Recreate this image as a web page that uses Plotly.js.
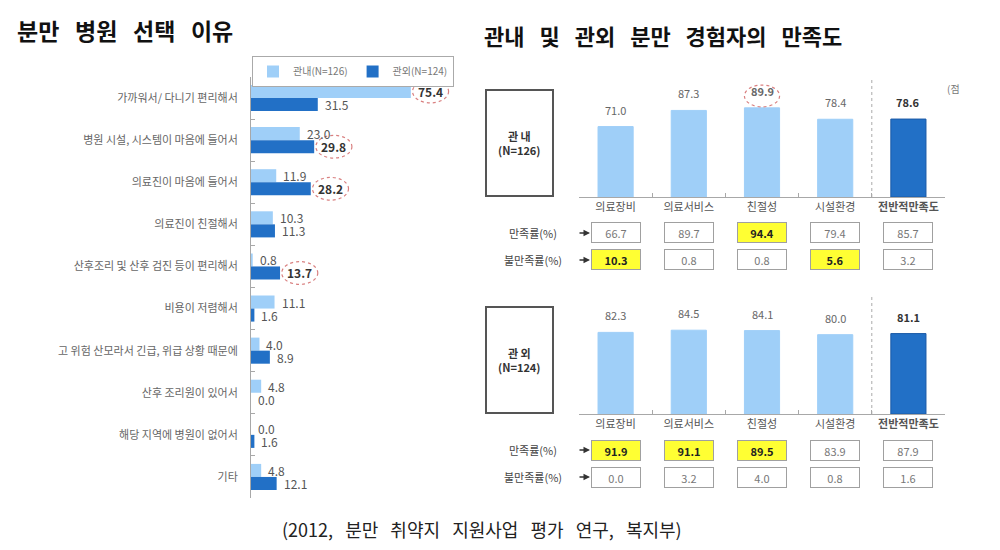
<!DOCTYPE html>
<html>
<head>
<meta charset="utf-8">
<script src="https://cdn.plot.ly/plotly-3.0.1.min.js"></script>
<style>
  body { margin: 0; background: #fff; }
  #chart { width: 1000px; height: 550px; }
</style>
</head>
<body>
<div id="chart"></div>
<script>
// 분만 병원 선택 이유 (%)
const reasons = [
  "가까워서/ 다니기 편리해서",
  "병원 시설, 시스템이 마음에 들어서",
  "의료진이 마음에 들어서",
  "의료진이 친절해서",
  "산후조리 및 산후 검진 등이 편리해서",
  "비용이 저렴해서",
  "고 위험 산모라서 긴급, 위급 상황 때문에",
  "산후 조리원이 있어서",
  "해당 지역에 병원이 없어서",
  "기타"
];
const reasonIn = [75.4, 23.0, 11.9, 10.3, 0.8, 11.1, 4.0, 4.8, 0.0, 4.8];
const reasonOut = [31.5, 29.8, 28.2, 11.3, 13.7, 1.6, 8.9, 0.0, 1.6, 12.1];
const reasonInMark = [0];
const reasonOutMark = [1, 2, 4];

// 관내 / 관외 만족도
const items = ["의료장비", "의료서비스", "친절성", "시설환경", "전반적만족도"];
const scoreIn = [71.0, 87.3, 89.9, 78.4, 78.6];
const satIn = [66.7, 89.7, 94.4, 79.4, 85.7];
const dissIn = [10.3, 0.8, 0.8, 5.6, 3.2];
const scoreOut = [82.3, 84.5, 84.1, 80.0, 81.1];
const satOut = [91.9, 91.1, 89.5, 83.9, 87.9];
const dissOut = [0.0, 3.2, 4.0, 0.8, 1.6];
const scoreInMark = [2];
const satInMark = [2];
const dissInMark = [0, 3];
const satOutMark = [0, 1, 2];
const dissOutMark = [];

const LIGHT = "#9fcff8";
const DARK = "#2270c6";
const FONT = "Noto Sans CJK KR, sans-serif";
const W = 1000, H = 550;
const px = p => p / W;
const py = p => 1 - p / H;
const f1 = v => v.toFixed(1);
// wide word gaps like the original serif titles
const wide = s => s.split(" ").join("\u00a0\u00a0\u00a0");

var traces = [];
var annotations = [];
var shapes = [];

function note(o) {
  annotations.push(Object.assign({ showarrow: false, xanchor: "center", yanchor: "middle" }, o));
}

// dashed circles around highlighted labels
function ring(xref, yref, x0, x1, y0, y1) {
  shapes.push({
    type: "circle", xref: xref, yref: yref, x0: x0, x1: x1, y0: y0, y1: y1,
    line: { color: "#d98080", width: 1.2, dash: "dot" }
  });
}

// ---- left chart ----
[[reasonIn, reasonInMark, LIGHT, "관내(N=126)", -0.155],
 [reasonOut, reasonOutMark, DARK, "관외(N=124)", 0.155]].forEach(([vals, mark, col, name, off]) => {
  traces.push({
    type: "bar", orientation: "h", name: name,
    y: reasons, x: vals, xaxis: "x", yaxis: "y",
    marker: { color: col }, hoverinfo: "skip"
  });
  vals.forEach((v, i) => {
    const hi = mark.includes(i);
    note({
      xref: "x", yref: "y", x: v, y: i + off, xanchor: "left", xshift: 5,
      text: hi ? "<b>" + f1(v) + "</b>" : f1(v),
      font: { size: 12, color: hi ? "#333" : "#555", family: FONT }
    });
  });
  mark.forEach(i => ring("x", "y", vals[i] + 0.8, vals[i] + 17.8, i + off - 0.27, i + off + 0.27));
});

// ---- right panels ----
function panel(xr, yr, base, scores, sat, diss, satMark, dissMark, scoreMark, label) {
  traces.push({
    type: "bar", x: items, y: scores, xaxis: xr, yaxis: yr, showlegend: false, width: 0.48,
    marker: {
      color: items.map((_, i) => i === items.length - 1 ? DARK : LIGHT),
      line: { color: items.map((_, i) => i === items.length - 1 ? "#1b5aa6" : LIGHT), width: 1 }
    },
    hoverinfo: "skip"
  });
  items.forEach((c, i) => {
    const last = i === items.length - 1;
    note({
      xref: xr, yref: yr, x: c, y: scores[i], yanchor: "bottom", yshift: 7,
      text: last || scoreMark.includes(i) ? "<b>" + f1(scores[i]) + "</b>" : f1(scores[i]),
      font: { size: 11, color: last ? "#333" : "#666", family: FONT }
    });
    [[sat, satMark, base + 36], [diss, dissMark, base + 63]].forEach(([vals, mark, row]) => {
      const hi = mark.includes(i);
      note({
        xref: xr, yref: "paper", x: c, y: py(row),
        text: hi ? "<b>" + f1(vals[i]) + "</b>" : f1(vals[i]),
        width: 46, height: 17,
        bgcolor: hi ? "#ffff33" : "#ffffff", bordercolor: "#a0a0a0", borderwidth: 1,
        font: { size: 11, color: hi ? "#222" : "#777", family: FONT }
      });
    });
  });
  scoreMark.forEach(i => ring(xr, yr, i - 0.24, i + 0.24, scores[i] + 1, scores[i] + 23));
  // row labels with arrows
  [["만족률(%)", base + 36], ["불만족률(%)", base + 63]].forEach(([t, row]) => {
    note({
      xref: "paper", yref: "paper", x: px(533), y: py(row), text: t,
      font: { size: 11, color: "#444", family: FONT }
    });
    annotations.push({
      xref: "paper", yref: "paper", x: px(590), y: py(row), text: "", showarrow: true,
      ax: -12, ay: 0, arrowhead: 2, arrowsize: 1, arrowwidth: 1.3, arrowcolor: "#333"
    });
  });
  // group box
  shapes.push({
    type: "rect", xref: "paper", yref: "paper",
    x0: px(486), x1: px(553), y0: py(base - 1), y1: py(base - 107),
    line: { color: "#555", width: 2 }, fillcolor: "rgba(0,0,0,0)"
  });
  note({
    xref: "paper", yref: "paper", x: px(519.5), y: py(base - 54), text: label,
    font: { size: 11, color: "#333", family: FONT }
  });
  // dotted separator before overall score
  shapes.push({
    type: "line", xref: xr, yref: yr, x0: items.length - 1.5, x1: items.length - 1.5,
    y0: 0, y1: 118, line: { color: "#aaa", width: 1, dash: "dot" }
  });
}
panel("x2", "y2", 197, scoreIn, satIn, dissIn, satInMark, dissInMark, scoreInMark, "<b>관 내</b><br><b>(N=126)</b>");
panel("x3", "y3", 414, scoreOut, satOut, dissOut, satOutMark, dissOutMark, [], "<b>관 외</b><br><b>(N=124)</b>");

// titles and notes
note({
  xref: "paper", yref: "paper", x: px(15), y: py(30), xanchor: "left",
  text: "<b>" + wide("분만 병원 선택 이유") + "</b>",
  font: { size: 23, color: "#111", family: FONT }
});
note({
  xref: "paper", yref: "paper", x: px(482), y: py(35), xanchor: "left",
  text: "<b>" + wide("관내 및 관외 분만 경험자의 만족도") + "</b>",
  font: { size: 22, color: "#111", family: FONT }
});
note({
  xref: "paper", yref: "paper", x: px(945), y: py(88), xanchor: "left", text: "(점",
  font: { size: 10, color: "#777", family: FONT }
});
note({
  xref: "paper", yref: "paper", x: px(482), y: py(529),
  text: wide("(2012, 분만 취약지 지원사업 평가 연구, 복지부)"),
  font: { size: 18, color: "#222", family: FONT }
});

const catTicks = {
  type: "category", showline: true, linecolor: "#a8a8a8", linewidth: 1,
  ticks: "inside", tickson: "boundaries", ticklen: 4, tickcolor: "#a8a8a8",
  showgrid: false, zeroline: false, fixedrange: true
};
const itemTicks = Object.assign({}, catTicks, {
  categoryorder: "array", categoryarray: items,
  tickmode: "array", tickvals: items,
  ticktext: items.map((c, i) => i === items.length - 1 ? "<b>" + c + "</b>" : c),
  tickfont: { size: 11, color: "#555", family: FONT }
});
const valAxis = { visible: false, fixedrange: true, showgrid: false, zeroline: false };

var layout = {
  width: W, height: H,
  margin: { l: 0, r: 0, t: 0, b: 0 },
  paper_bgcolor: "#fff", plot_bgcolor: "rgba(0,0,0,0)",
  barmode: "group", bargap: 0.38, bargroupgap: 0,
  showlegend: true,
  legend: {
    orientation: "h", x: px(252), y: py(56), xanchor: "left", yanchor: "top",
    bordercolor: "#aaa", borderwidth: 1, itemwidth: 30,
    font: { size: 10, color: "#777", family: FONT },
    traceorder: "normal", tracegroupgap: 0
  },
  xaxis: Object.assign({}, valAxis, { domain: [px(251), px(463)], range: [0, 100], anchor: "y" }),
  yaxis: Object.assign({}, catTicks, {
    domain: [py(498), py(77)], anchor: "x", autorange: "reversed",
    categoryorder: "array", categoryarray: reasons, ticklabelstandoff: 10,
    tickfont: { size: 11, color: "#666", family: FONT }
  }),
  xaxis2: Object.assign({}, itemTicks, { domain: [px(579), px(945)], anchor: "y2" }),
  yaxis2: Object.assign({}, valAxis, { domain: [py(197), py(78)], range: [0, 120], anchor: "x2" }),
  xaxis3: Object.assign({}, itemTicks, { domain: [px(579), px(945)], anchor: "y3" }),
  yaxis3: Object.assign({}, valAxis, { domain: [py(414), py(295)], range: [0, 120], anchor: "x3" }),
  annotations: annotations,
  shapes: shapes
};

Plotly.newPlot("chart", traces, layout, { staticPlot: true, displayModeBar: false });
</script>
</body>
</html>
